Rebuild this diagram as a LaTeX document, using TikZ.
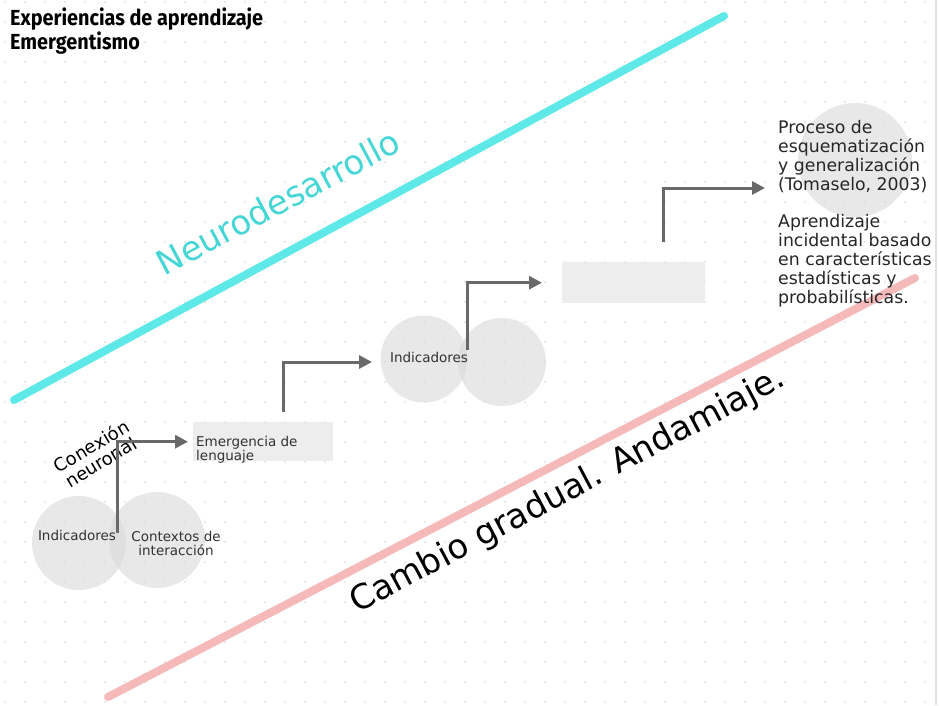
\documentclass[tikz,border=0pt]{standalone}
\usepackage{fontspec}
\setmainfont{DejaVu Sans}
\newfontfamily\titlefont{Fira Sans}
\usetikzlibrary{arrows.meta}
\definecolor{cyanline}{RGB}{95,232,232}
\definecolor{cyantext}{RGB}{70,214,214}
\definecolor{pinkline}{RGB}{245,185,185}
\definecolor{arrowgray}{RGB}{105,105,105}
\definecolor{boxgray}{RGB}{237,237,237}
\definecolor{dotgray}{RGB}{212,212,212}
\tikzset{
  conn/.style={draw=arrowgray, line width=3pt, -{Triangle[length=13pt,width=13pt]}},
  bubble/.style={circle, fill=black!15, fill opacity=0.6, minimum size=#1, inner sep=0pt},
  tag/.style={font=\fontsize{13.5}{14}\selectfont, text=black!80, align=center, inner sep=0pt},
  boxfill/.style={fill=boxgray, inner sep=0pt, anchor=north west},
  sidetext/.style={anchor=north west, align=left, inner sep=0pt, text=black!85, font=\fontsize{17.3}{19}\selectfont},
  bigtext/.style={font=\fontsize{34}{40}\selectfont, inner sep=0pt},
}
\begin{document}
\begin{tikzpicture}[x=1pt,y=-1pt]
\useasboundingbox (0,0) rectangle (939,705);
\fill[white] (0,0) rectangle (939,705);
\foreach \i in {0,...,46} \foreach \j in {0,...,35} \fill[dotgray] (5+20*\i, 2+20*\j) circle (0.9pt);
\draw[black!12, line width=1.5pt] (936,0) -- (936,705);

% diagonal bands
\draw[cyanline, line width=8pt, line cap=round] (14,400) -- (724,16);
\draw[pinkline, line width=8pt, line cap=round] (108,697) -- (915,278);

% title
\node[anchor=north west, align=left, inner sep=0pt, xscale=0.91, transform shape,
      font=\titlefont\bfseries\fontsize{21.8}{21}\selectfont] (title) at (10,8)
  {Experiencias de aprendizaje\\Emergentismo};

% bubbles
\node[bubble=94pt] (c1) at (79,543) {};
\node[bubble=96pt] (c2) at (157,540) {};
\node[bubble=87pt] (c3) at (424,359) {};
\node[bubble=88pt] (c4) at (502,362) {};
\node[bubble=114pt] (c5) at (855,160) {};

% boxes
\node[boxfill, minimum width=140pt, minimum height=39pt] (b1) at (193,422) {};
\node[boxfill, minimum width=143pt, minimum height=41pt] (b2) at (562,262) {};

% labels
\node[tag] (t1) at (77,535) {Indicadores};
\node[tag] (t2) at (176,543) {Contextos de\\interacción};
\node[tag, anchor=north west, align=left] (t3) at (196,436) {Emergencia de\\lenguaje};
\node[tag] (t4) at (429,357) {Indicadores};

\node[rotate=31, align=center, inner sep=0pt, font=\fontsize{18}{18.5}\selectfont] (cn) at (96,454) {Conexión\\neuronal};

\node[sidetext] (r1) at (778,120) {Proceso de\\esquematización\\y generalización\\(Tomaselo, 2003)};
\node[sidetext] (r2) at (778,214) {Aprendizaje\\incidental basado\\en características\\estadísticas y\\probabilísticas.};

\node[bigtext, rotate=28, text=cyantext] (neuro) at (278,202) {Neurodesarrollo};
\node[bigtext, rotate=28] (cambio) at (568,491) {Cambio gradual. Andamiaje.};

% connectors
\coordinate (a1) at (117,533);
\coordinate (a2) at (283,412);
\coordinate (a2e) at (372,362);
\coordinate (a3) at (467,350);
\coordinate (a4) at (663,242);
\coordinate (a4e) at (765,188);
\draw[conn] (a1) |- ([xshift=-5pt]b1.west);
\draw[conn] (a2) |- (a2e);
\draw[conn] (a3) |- ([xshift=-20pt]b2.west);
\draw[conn] (a4) |- (a4e);
\end{tikzpicture}
\end{document}
